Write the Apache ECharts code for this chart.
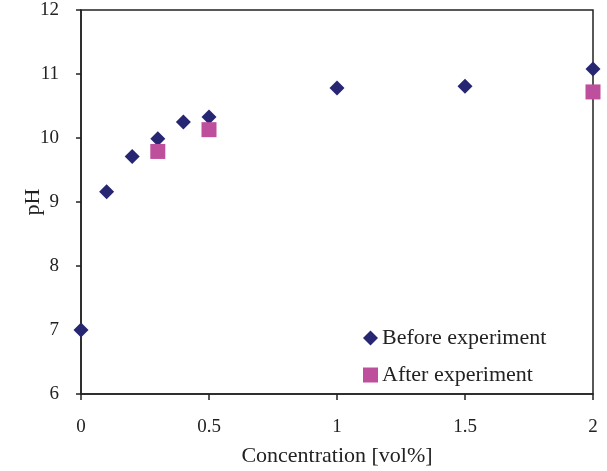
<!DOCTYPE html>
<html><head><meta charset="utf-8">
<script src="https://cdn.jsdelivr.net/npm/echarts@6/dist/echarts.min.js"></script>
<style>html,body{margin:0;padding:0;background:#fff}#c{width:607px;height:471px}</style>
</head><body><div id="c"></div>
<script>
const beforeX = [0, 0.1, 0.2, 0.3, 0.4, 0.5, 1, 1.5, 2];
const beforeY = [7.0, 9.16, 9.71, 9.99, 10.25, 10.33, 10.78, 10.81, 11.08];
const afterX = [0.3, 0.5, 2];
const afterY = [9.79, 10.13, 10.72];
const seriesNames = ['Before experiment', 'After experiment'];
const xTitle = 'Concentration [vol%]';
const yTitle = 'pH';

const font = 'Liberation Serif';
const axisColor = '#222';
const chart = echarts.init(document.getElementById('c'), null, {renderer: 'canvas'});
chart.setOption({
  animation: false,
  backgroundColor: '#fff',
  grid: {left: 81, right: 14, top: 10, bottom: 77, show: true, borderColor: axisColor, borderWidth: 1.5,
         containLabel: false, outerBoundsMode: 'none'},
  xAxis: {
    type: 'value', min: 0, max: 2, interval: 0.5,
    name: xTitle, nameLocation: 'middle', nameGap: 51, nameMoveOverlap: false,
    nameTextStyle: {fontFamily: font, fontSize: 22, color: '#222'},
    axisLine: {show: true, lineStyle: {color: axisColor, width: 1.5}},
    axisTick: {show: true, inside: false, length: 6, lineStyle: {color: axisColor, width: 1.5}},
    axisLabel: {fontFamily: font, fontSize: 19, color: '#222', margin: 24},
    splitLine: {show: false}
  },
  yAxis: {
    type: 'value', min: 6, max: 12, interval: 1,
    name: yTitle, nameLocation: 'middle', nameGap: 37, nameRotate: 90, nameMoveOverlap: false,
    nameTextStyle: {fontFamily: font, fontSize: 22, color: '#222'},
    axisLine: {show: true, lineStyle: {color: axisColor, width: 1.5}},
    axisTick: {show: true, inside: false, length: 5, lineStyle: {color: axisColor, width: 1.5}},
    axisLabel: {fontFamily: font, fontSize: 19, color: '#222', margin: 22},
    splitLine: {show: false}
  },
  legend: {
    orient: 'vertical', left: 358, top: 322, itemGap: 15,
    itemWidth: 15, itemHeight: 15,
    textStyle: {fontFamily: font, fontSize: 22, color: '#222', padding: [0,0,0,-1]},
    data: [{name: seriesNames[0], icon: 'diamond'}, {name: seriesNames[1], icon: 'rect'}]
  },
  series: [
    {name: seriesNames[0], type: 'scatter', symbol: 'diamond', symbolSize: 15, clip: false,
     itemStyle: {color: '#262673', opacity: 1}, data: beforeX.map((x, i) => [x, beforeY[i]])},
    {name: seriesNames[1], type: 'scatter', symbol: 'rect', symbolSize: 15, clip: false,
     itemStyle: {color: '#BE4F9C', opacity: 1}, data: afterX.map((x, i) => [x, afterY[i]])}
  ]
});
</script></body></html>
